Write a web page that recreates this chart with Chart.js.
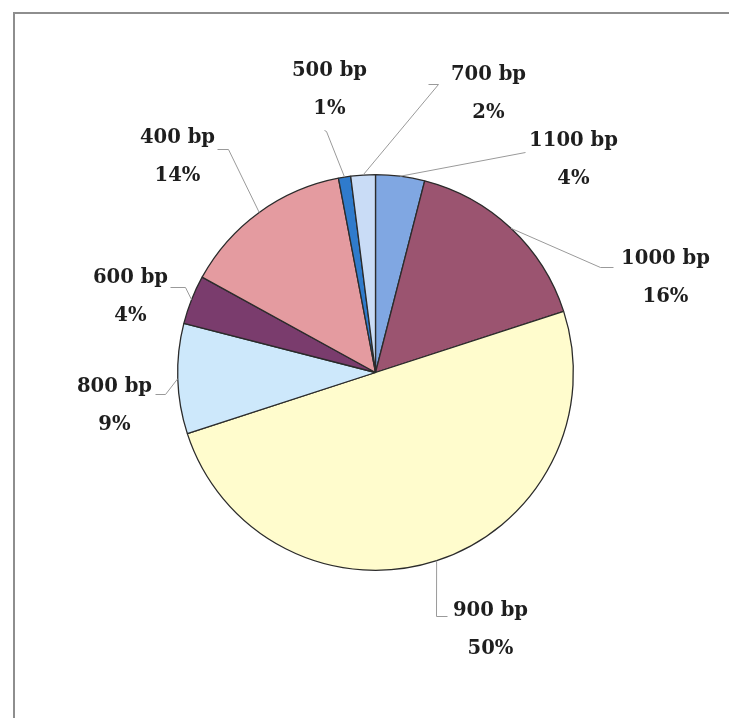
<!DOCTYPE html>
<html>
<head>
<meta charset="utf-8">
<title>Fragment sizes</title>
<script src="https://cdn.jsdelivr.net/npm/chart.js@4/dist/chart.umd.min.js"></script>
<style>
	html, body { margin: 0; padding: 0; background: #fff; overflow: hidden; }
	#wrap { position: relative; width: 729px; height: 718px; }
	#frame { position: absolute; left: 13px; top: 12px; right: 0; bottom: 0;
		border-top: 2px solid #8e8e8e; border-left: 2px solid #8e8e8e; pointer-events: none; }
	canvas { position: absolute; left: 0; top: 0; }
</style>
</head>
<body>
<div id="wrap">
	<canvas id="pie"></canvas>
	<div id="frame"></div>
</div>
<script>
// data, clockwise from 12 o'clock
const sizes = ['1100 bp', '1000 bp', '900 bp', '800 bp', '600 bp', '400 bp', '500 bp', '700 bp'];
const percents = [4, 16, 50, 9, 4, 14, 1, 2];
const sliceColors = ['#80a7e2', '#9b5470', '#fffccd', '#cde8fb', '#7a3c6d', '#e49ba0', '#2f7bcc', '#c9dcf6'];

// where each label sits and how its leader bends, relative to the pie centre
const labelLayout = [
	{ text: [198, -234], knee: [150, -220], end: [150, -220] },
	{ text: [290, -116], knee: [225, -105], end: [238, -105] },
	{ text: [115, 236], knee: [61, 244], end: [72, 244] },
	{ text: [-261, 12], knee: [-210, 22], end: [-220, 22] },
	{ text: [-245, -97], knee: [-190, -85], end: [-205, -85] },
	{ text: [-198, -237], knee: [-147, -223], end: [-158, -223] },
	{ text: [-46, -304], knee: [-49, -241], end: [-51, -242] },
	{ text: [113, -300], knee: [63, -288], end: [53, -288] }
];

const leaderLabels = {
	id: 'leaderLabels',
	afterDatasetsDraw(chart) {
		const ctx = chart.ctx;
		const arcs = chart.getDatasetMeta(0).data;
		ctx.save();
		arcs.forEach((arc, i) => {
			const p = arc.getProps(['x', 'y', 'startAngle', 'endAngle', 'outerRadius'], true);
			const mid = (p.startAngle + p.endAngle) / 2;
			const sx = p.x + Math.cos(mid) * p.outerRadius;
			const sy = p.y + Math.sin(mid) * p.outerRadius;
			const lay = labelLayout[i];
			ctx.strokeStyle = '#9a9a9a';
			ctx.lineWidth = 1;
			ctx.beginPath();
			ctx.moveTo(sx, sy);
			ctx.lineTo(p.x + lay.knee[0], p.y + lay.knee[1]);
			ctx.lineTo(p.x + lay.end[0], p.y + lay.end[1]);
			ctx.stroke();

			ctx.fillStyle = '#1e1e1e';
			ctx.font = 'bold 19.6px "DejaVu Serif", serif';
			ctx.textAlign = 'center';
			ctx.textBaseline = 'alphabetic';
			const tx = p.x + lay.text[0];
			const ty = p.y + lay.text[1];
			ctx.fillText(sizes[i], tx, ty + 7);
			ctx.fillText(percents[i] + '%', tx, ty + 45);
		});
		ctx.restore();
	}
};

new Chart(document.getElementById('pie'), {
	type: 'pie',
	data: {
		labels: sizes,
		datasets: [{
			data: percents,
			backgroundColor: sliceColors,
			borderColor: '#2b2b2b',
			borderWidth: 1.3
		}]
	},
	options: {
		responsive: true,
		maintainAspectRatio: false,
		animation: false,
		layout: { padding: { left: 177, right: 155, top: 174, bottom: 147 } },
		plugins: {
			legend: { display: false },
			tooltip: { enabled: false }
		}
	},
	plugins: [leaderLabels]
});
</script>
</body>
</html>
